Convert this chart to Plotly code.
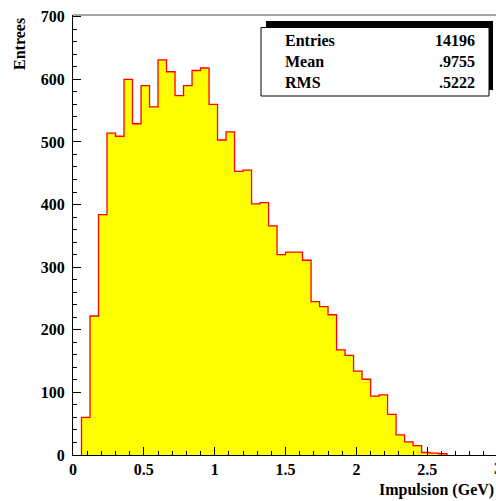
import numpy as np
import plotly.graph_objects as go

# ---- data ----
bin_start = 0.06
bin_width = 0.06
counts = [60, 222, 384, 514, 509, 600, 529, 590, 556, 631, 612, 574, 590, 614,
          618, 560, 503, 516, 453, 455, 401, 403, 366, 320, 324, 324, 311, 245,
          237, 224, 168, 159, 134, 121, 94, 96, 65, 32, 21, 15, 4, 3, 2]
stat_labels = ["Entries", "Mean", "RMS"]
stat_values = ["14196", ".9755", ".5222"]
x_tick_vals = [0, 0.5, 1, 1.5, 2, 2.5]
x_tick_text = ["0", "0.5", "1", "1.5", "2", "2.5"]
y_tick_vals = [0, 100, 200, 300, 400, 500, 600, 700]
x_title = "Impulsion (GeV)"
y_title = "Entrees"

# ---- layout geometry (pixels) ----
W, H = 496, 501
L, T, B = 73, 15, 46
PW, PH = W - L, H - T - B
X_MAX = PW / 141.7
Y_MAX = PH / 0.6262

def px(x):
    return (x - L) / PW

def py(y):
    return (H - B - y) / PH

n = len(counts)
edges = bin_start + bin_width * np.arange(n + 1)
xs = [edges[0]] + list(edges[:-1]) + [edges[-1], edges[-1]]
ys = [0] + list(counts) + [counts[-1], 0]

FONT = dict(family="Liberation Serif", size=16, color="black", weight="bold")

fig = go.Figure()
fig.add_trace(go.Scatter(
    x=xs, y=ys, mode="lines", line=dict(color="#ff0000", width=1.3, shape="hv"),
    fill="tozeroy", fillcolor="#ffff00", hoverinfo="skip", showlegend=False,
))

axis_common = dict(
    showgrid=False, zeroline=False, showline=True, linecolor="black", linewidth=1,
    ticks="inside", ticklen=8, tickwidth=1, tickcolor="black",
    tickfont=FONT, layer="above traces",
)
fig.update_xaxes(range=[0, X_MAX], tickvals=x_tick_vals, ticktext=x_tick_text,
                 minor=dict(dtick=0.1, ticks="inside", ticklen=4, tickcolor="black", tickwidth=1),
                 **axis_common)
fig.update_yaxes(range=[0, Y_MAX], tickvals=y_tick_vals, ticklabelstandoff=4,
                 minor=dict(dtick=20, ticks="inside", ticklen=4, tickcolor="black", tickwidth=1),
                 **axis_common)

shapes = [
    # top frame line
    dict(type="line", xref="paper", yref="paper", x0=0, x1=1, y0=1, y1=1,
         line=dict(color="#888888", width=1.5)),
    # stats box shadow
    dict(type="rect", xref="paper", yref="paper", x0=px(266), x1=px(493),
         y0=py(90), y1=py(21), fillcolor="black", line=dict(width=0)),
    # stats box
    dict(type="rect", xref="paper", yref="paper", x0=px(261), x1=px(489),
         y0=py(96), y1=py(27.5), fillcolor="white", line=dict(color="black", width=1)),
]

annotations = []
row_y = [40.5, 61.5, 82.5]
for lab, val, ry in zip(stat_labels, stat_values, row_y):
    annotations.append(dict(text=lab, xref="paper", yref="paper", x=px(283), y=py(ry),
                            xanchor="left", yanchor="middle", showarrow=False, font=FONT))
    annotations.append(dict(text=val, xref="paper", yref="paper", x=px(477), y=py(ry),
                            xanchor="right", yanchor="middle", showarrow=False, font=FONT))

annotations.append(dict(text=x_title, xref="paper", yref="paper", x=px(496), y=py(490),
                        xanchor="right", yanchor="middle", showarrow=False, font=FONT))
annotations.append(dict(text="3", xref="paper", yref="paper", x=px(L + 3 * 141.7), y=py(468),
                        xanchor="center", yanchor="middle", showarrow=False, font=FONT))
annotations.append(dict(text=y_title, xref="paper", yref="paper", x=px(19), y=py(44),
                        xanchor="center", yanchor="middle", textangle=-90,
                        showarrow=False, font=FONT))

fig.update_layout(
    width=W, height=H, margin=dict(l=L, r=0, t=T, b=B),
    paper_bgcolor="white", plot_bgcolor="white",
    shapes=shapes, annotations=annotations, showlegend=False,
)

fig.write_html("out.html", config={"displayModeBar": False},
               post_script="document.body.style.margin='0';document.body.style.overflow='hidden';")
